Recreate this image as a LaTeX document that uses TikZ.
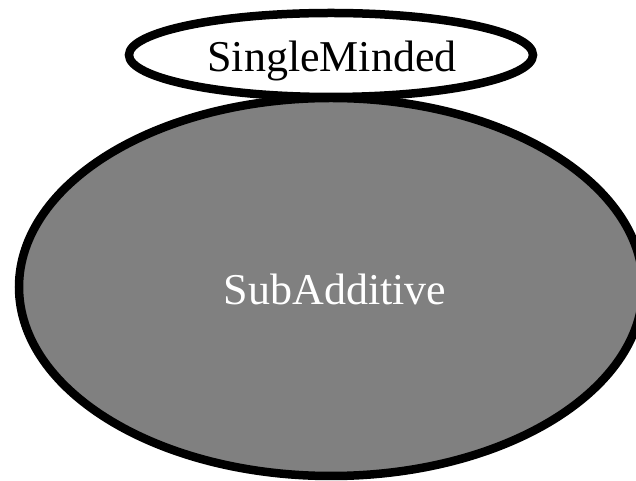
\documentclass[tikz,border=0pt]{standalone}
\usepackage{fontspec}
\setmainfont{Liberation Serif}
\usetikzlibrary{shapes.geometric}
\definecolor{setgray}{RGB}{128,128,128}
\tikzset{
  setline/.style={line width=8.5pt, draw=black},
  settext/.style={font=\fontsize{44}{48}\selectfont, inner sep=0pt, anchor=base}
}
\begin{document}
\begin{tikzpicture}[x=1pt,y=1pt]
  \useasboundingbox (0,0) rectangle (636,481);
  \clip (0,0) rectangle (636,481);
  % large class
  \draw[setline, fill=setgray] (331,194) ellipse [x radius=312, y radius=189];
  \node[settext, text=white] (sub) at (335,176) {SubAdditive};
  % small class on top
  \draw[setline, fill=white] (331,426) ellipse [x radius=202, y radius=42];
  \node[settext, text=black] (single) at (332,409) {SingleMinded};
\end{tikzpicture}
\end{document}
